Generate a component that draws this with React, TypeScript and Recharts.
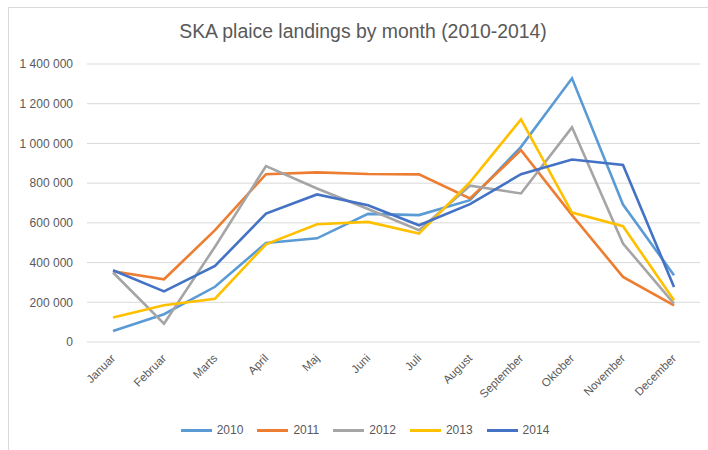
import React from 'react';
import { LineChart, Line, XAxis, YAxis, CartesianGrid, Legend } from 'recharts';

const months = ['Januar', 'Februar', 'Marts', 'April', 'Maj', 'Juni', 'Juli', 'August', 'September', 'Oktober', 'November', 'December'];

const y2010 = [55000, 140000, 278000, 499000, 522000, 645000, 639000, 714000, 983000, 1328000, 692000, 336000];
const y2011 = [356000, 316000, 563000, 845000, 854000, 846000, 844000, 723000, 966000, 639000, 328000, 185000];
const y2012 = [350000, 92000, 480000, 886000, 773000, 670000, 563000, 787000, 748000, 1081000, 496000, 193000];
const y2013 = [123000, 185000, 218000, 492000, 593000, 605000, 546000, 805000, 1121000, 652000, 583000, 210000];
const y2014 = [361000, 255000, 383000, 647000, 743000, 689000, 588000, 694000, 845000, 919000, 891000, 277000];

const yTicks = [0, 200000, 400000, 600000, 800000, 1000000, 1200000, 1400000];

const series = [
  { key: '2010', values: y2010, color: '#5B9BD5' },
  { key: '2011', values: y2011, color: '#ED7D31' },
  { key: '2012', values: y2012, color: '#A5A5A5' },
  { key: '2013', values: y2013, color: '#FFC000' },
  { key: '2014', values: y2014, color: '#4472C4' },
];

const data = months.map((m, i) => {
  const row: Record<string, string | number> = { month: m };
  series.forEach((s) => { row[s.key] = s.values[i]; });
  return row;
});

const FONT = '"Liberation Sans", Arial, sans-serif';
const GREY = '#595959';

const fmt = (v: number) => String(v).replace(/\B(?=(\d{3})+(?!\d))/g, ' ');

const MonthTick = (props: any) => {
  const { x, y, payload } = props;
  const ax = x + 3;
  const ay = y + 17;
  return (
    <text x={ax} y={ay} transform={`rotate(-45, ${ax}, ${ay})`} textAnchor="end" fontSize={11.5} fill={GREY} fontFamily={FONT}>
      {payload.value}
    </text>
  );
};

const LegendContent = (props: any) => {
  const { payload } = props;
  return (
    <div style={{ display: 'flex', justifyContent: 'center', paddingLeft: 36, fontFamily: FONT, fontSize: 12, color: GREY }}>
      {payload.map((p: any) => (
        <div key={p.value} style={{ display: 'flex', alignItems: 'center', marginRight: 14 }}>
          <div style={{ width: 31, height: 3, background: p.color, marginRight: 5 }} />
          <span>{p.value}</span>
        </div>
      ))}
    </div>
  );
};

export default function App() {
  return (
    <div style={{ position: 'fixed', left: 0, top: 0, width: 708, height: 450, overflow: 'hidden', background: '#fff' }}>
      <div style={{ position: 'absolute', left: 8, top: 7, width: 720, height: 460, border: '1px solid #d9d9d9' }} />
      <div style={{ position: 'absolute', left: 9, top: 20, width: 708, textAlign: 'center', fontFamily: FONT, fontSize: 19.4, color: GREY }}>
        SKA plaice landings by month (2010-2014)
      </div>
      <div style={{ position: 'absolute', left: 0, top: 0 }}>
        <LineChart width={708} height={450} data={data} margin={{ top: 64, right: 8, left: 0, bottom: 8 }}>
          <CartesianGrid vertical={false} stroke="#d9d9d9" />
          <XAxis
            dataKey="month"
            interval={0}
            height={70}
            axisLine={false}
            tickLine={false}
            tickSize={0}
            tickMargin={0}
            padding={{ left: 26, right: 26 }}
            tick={<MonthTick />}
          />
          <YAxis
            width={87}
            domain={[0, 1400000]}
            ticks={yTicks}
            axisLine={false}
            tickLine={false}
            tickSize={0}
            tickMargin={14}
            tickFormatter={fmt}
            tick={{ fontSize: 12, fill: GREY, fontFamily: FONT }}
          />
          <Legend
            verticalAlign="bottom"
            height={30}
            content={<LegendContent />}
            wrapperStyle={{ top: 423, left: 0, width: 708 }}
          />
          {series.map((s) => (
            <Line
              key={s.key}
              type="linear"
              dataKey={s.key}
              name={s.key}
              stroke={s.color}
              strokeWidth={2.6}
              dot={false}
              activeDot={false}
              isAnimationActive={false}
            />
          ))}
        </LineChart>
      </div>
    </div>
  );
}
